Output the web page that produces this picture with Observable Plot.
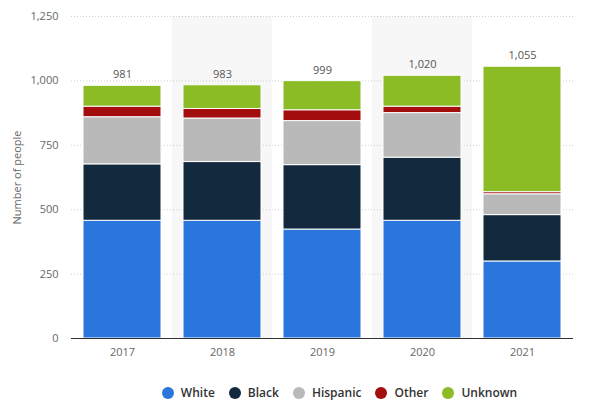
<!DOCTYPE html>
<html>
<head>
<meta charset="utf-8">
<script src="https://cdn.jsdelivr.net/npm/d3@7"></script>
<script src="https://cdn.jsdelivr.net/npm/@observablehq/plot@0.6"></script>
<style>
  body { margin: 0; background: #fff; font-family: "Open Sans", sans-serif; }
  #legend { display: flex; justify-content: center; gap: 14px; margin-top: 12px; font-size: 12px; font-weight: 600; color: #333; padding-left: 86px; }
  #legend span.item { display: flex; align-items: center; }
  #legend span.dot { width: 12px; height: 12px; border-radius: 50%; display: inline-block; margin-right: 7px; }
</style>
</head>
<body>
<div id="chart"></div>
<div id="legend"></div>
<script>
// datos
const years = ["2017", "2018", "2019", "2020", "2021"]
const categories = ["White", "Black", "Hispanic", "Other", "Unknown"]
const colors = ["#2a76dc", "#13293e", "#b9b9b9", "#a30d0d", "#8bbb25"]
const white = [457, 457, 423, 457, 299]
const black = [219, 228, 250, 245, 180]
const hispanic = [183, 169, 171, 173, 81]
const other = [41, 37, 42, 25, 8]
const unknown = [81, 92, 113, 120, 487]
const shadedYears = ["2018", "2020"]
const yTicks = [0, 250, 500, 750, 1000, 1250]

const series = [white, black, hispanic, other, unknown]
const table = []
categories.forEach((c, i) => {
  years.forEach((y, j) => table.push({year: y, category: c, value: series[i][j]}))
})

let chart = Plot.plot({
  width: 593,
  height: 372,
  marginLeft: 71,
  marginRight: 20,
  marginTop: 16,
  marginBottom: 34,
  style: {fontFamily: '"Open Sans", sans-serif', fontSize: 11, color: '#666', background: '#fff'},
  x: {domain: years, paddingInner: 0.22, paddingOuter: 0.11, label: null, tickSize: 0, tickPadding: 10},
  y: {domain: [0, 1250], ticks: yTicks, tickFormat: d3.format(","), tickSize: 0, tickPadding: 13,
      label: "Number of people", labelAnchor: "center", labelOffset: 58, labelArrow: "none"},
  color: {domain: categories, range: colors},
  marks: [
    // columnas sombreadas
    Plot.cell(shadedYears, {x: d => d, fill: "#f7f7f7", insetLeft: -11, insetRight: -11}),
    Plot.gridY(yTicks, {stroke: "#cfcfcf", strokeOpacity: 1, strokeDasharray: "1,2"}),
    Plot.barY(table, {x: "year", y: "value", fill: "category", order: categories, stroke: "#fff", strokeWidth: 1}),
    Plot.text(table, Plot.groupX({y: "sum", text: "sum"}, {x: "year", y: "value", text: "value", dy: -11, fill: "#555", fontSize: 11})),
    Plot.ruleY([0], {stroke: "#333"})
  ]
})
d3.select('#chart').append(() => chart)

// leyenda con círculos
const legend = d3.select('#legend')
categories.forEach((c, i) => {
  const item = legend.append('span').attr('class', 'item')
  item.append('span').attr('class', 'dot').style('background', colors[i])
  item.append('span').text(c)
})
</script>
</body>
</html>
